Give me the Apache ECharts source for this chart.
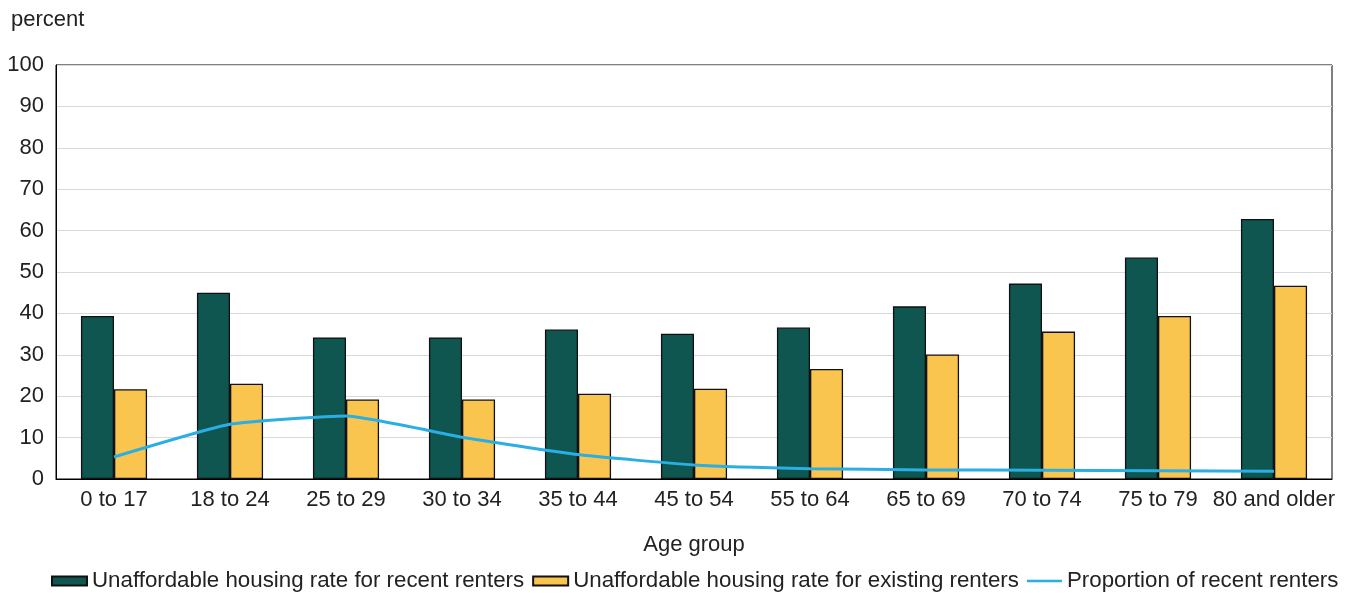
<!DOCTYPE html>
<html>
<head>
<meta charset="utf-8">
<script src="https://cdn.jsdelivr.net/npm/echarts@6/dist/echarts.min.js"></script>
<style>
  html, body { margin: 0; padding: 0; background: #fff; }
  #chart { width: 1352px; height: 593px; }
</style>
</head>
<body>
<div id="chart"></div>
<script>
// Age groups along the horizontal axis
const ageGroups = ['0 to 17', '18 to 24', '25 to 29', '30 to 34', '35 to 44', '45 to 54',
  '55 to 64', '65 to 69', '70 to 74', '75 to 79', '80 and older'];

// Unaffordable housing rate (percent) for recent renters
const recentRenters = [39.4, 45.0, 34.2, 34.2, 36.1, 35.1, 36.6, 41.7, 47.2, 53.5, 62.8];

// Unaffordable housing rate (percent) for existing renters
const existingRenters = [21.7, 23.0, 19.2, 19.2, 20.6, 21.8, 26.6, 30.1, 35.6, 39.4, 46.7];

// Proportion of recent renters (percent)
const recentProportion = [5.3, 13.2, 15.2, 10.1, 5.9, 3.4, 2.5, 2.2, 2.1, 2.0, 1.9];

// Vertical axis ticks
const yTicks = { min: 0, max: 100, interval: 10 };

const FONT = '"Liberation Sans", Arial, sans-serif';
const TEXT = '#222';
const SIZE = 22;

const chart = echarts.init(document.getElementById('chart'), null, { renderer: 'canvas' });

chart.setOption({
  animation: false,
  backgroundColor: '#fff',
  textStyle: { fontFamily: FONT, color: TEXT },
  title: {
    text: 'percent',
    left: 6,
    top: 4,
    textStyle: { fontFamily: FONT, fontSize: SIZE, fontWeight: 'normal', color: TEXT }
  },
  grid: {
    left: 56, right: 20, top: 65, bottom: 114,
    show: true, borderColor: '#000', borderWidth: 1, backgroundColor: 'transparent'
  },
  legend: {
    top: 570,
    left: 51,
    width: 1300,
    padding: 0,
    itemWidth: 35,
    itemHeight: 9,
    itemGap: 8,
    textStyle: { fontFamily: FONT, fontSize: 22.3, color: TEXT },
    data: [
      { name: 'Unaffordable housing rate for recent renters', icon: 'rect' },
      { name: 'Unaffordable housing rate for existing renters', icon: 'rect' },
      {
        name: 'Proportion of recent renters',
        // thin stroke centred in the 35x9 legend box
        icon: 'path://M0 0 M0 3.3 L35 3.3 L35 5.7 L0 5.7 Z M35 9',
        itemStyle: { color: '#2aaee3', borderWidth: 0 }
      }
    ]
  },
  xAxis: {
    type: 'category',
    data: ageGroups,
    name: 'Age group',
    nameLocation: 'middle',
    nameGap: 55,
    nameTextStyle: { fontFamily: FONT, fontSize: SIZE, color: TEXT },
    axisLine: { lineStyle: { color: '#000', width: 1 } },
    axisTick: { show: false },
    axisLabel: { fontFamily: FONT, fontSize: SIZE, color: TEXT, margin: 10, interval: 0 }
  },
  yAxis: {
    type: 'value',
    min: yTicks.min,
    max: yTicks.max,
    interval: yTicks.interval,
    axisLine: { show: true, lineStyle: { color: '#000', width: 1 } },
    axisTick: { show: false },
    axisLabel: { fontFamily: FONT, fontSize: SIZE, color: TEXT, margin: 12 },
    splitLine: { lineStyle: { color: '#d9d9d9', width: 1 } }
  },
  series: [
    {
      name: 'Unaffordable housing rate for recent renters',
      type: 'bar',
      data: recentRenters,
      barGap: '0%',
      barCategoryGap: '43%',
      itemStyle: { color: '#0e564f', borderColor: '#111', borderWidth: 1.3 }
    },
    {
      name: 'Unaffordable housing rate for existing renters',
      type: 'bar',
      data: existingRenters,
      barGap: '0%',
      barCategoryGap: '43%',
      itemStyle: { color: '#f9c54e', borderColor: '#111', borderWidth: 1.3 }
    },
    {
      name: 'Proportion of recent renters',
      type: 'line',
      data: recentProportion,
      smooth: 0.15,
      symbol: 'none',
      lineStyle: { color: '#2aaee3', width: 3 },
      itemStyle: { color: '#2aaee3' },
      z: 5
    }
  ]
});
</script>
</body>
</html>
